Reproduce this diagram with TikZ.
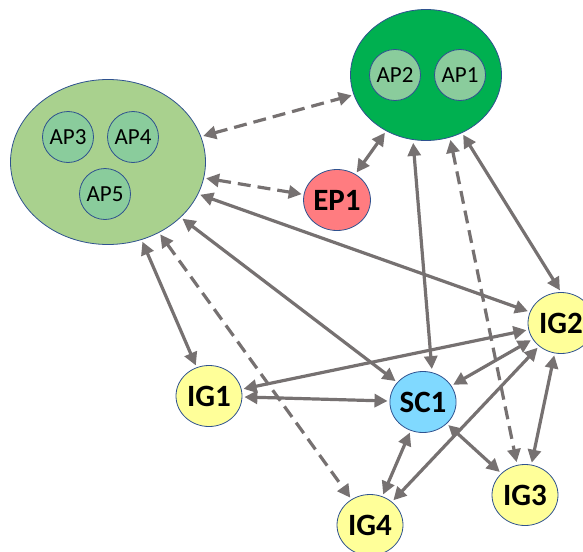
\documentclass[tikz,border=0pt]{standalone}
\usepackage{fontspec}
\setmainfont{Carlito}
\usetikzlibrary{shapes.geometric}
\usetikzlibrary{arrows.meta}

\definecolor{edgegray}{RGB}{118,113,113}
\definecolor{rimblue}{RGB}{47,82,143}
\definecolor{grpgreen}{RGB}{169,209,142}
\definecolor{deepgreen}{RGB}{0,176,80}
\definecolor{apgreen}{RGB}{138,204,156}
\definecolor{epred}{RGB}{255,124,128}
\definecolor{scblue}{RGB}{128,217,255}
\definecolor{igyellow}{RGB}{255,255,153}

\begin{document}
\begin{tikzpicture}[x=1pt,y=-1pt,
		grp/.style={ellipse,draw=rimblue,line width=0.8pt,inner sep=0pt},
		ap/.style={circle,draw=rimblue,fill=apgreen,line width=0.8pt,minimum size=51pt,inner sep=0pt,font=\fontsize{23}{26}\selectfont},
		dev/.style={ellipse,draw=rimblue,line width=0.8pt,minimum width=66pt,minimum height=61pt,inner sep=0pt,font=\bfseries\fontsize{31}{34}\selectfont},
		link/.style={draw=edgegray,line width=3.2pt,shorten <=2pt,shorten >=2pt,{Triangle[length=13pt,width=13pt]}-{Triangle[length=13pt,width=13pt]}},
		dlink/.style={link,dash pattern=on 13pt off 7pt}]
		\useasboundingbox (0,0) rectangle (583,551);
		\clip (0,0) rectangle (583,551);
		% access point groups
		\node[grp,fill=grpgreen,minimum width=195pt,minimum height=165pt] (apL) at (108,162) {};
		\node[grp,fill=deepgreen,minimum width=151pt,minimum height=131pt] (apR) at (426,75) {};
		\node[ap] (ap3) at (68,137) {AP3};
		\node[ap] (ap4) at (133,137) {AP4};
		\node[ap] (ap5) at (105,194) {AP5};
		\node[ap] (ap2) at (395,75) {AP2};
		\node[ap] (ap1) at (460,75) {AP1};
		% devices
		\node[dev,fill=epred] (ep1) at (337,200) {EP1};
		\node[dev,fill=scblue] (sc1) at (423,402) {SC1};
		\node[dev,fill=igyellow] (ig1) at (209,396) {IG1};
		\node[dev,fill=igyellow] (ig2) at (561,323) {IG2};
		\node[dev,fill=igyellow] (ig3) at (525,495) {IG3};
		\node[dev,fill=igyellow] (ig4) at (370,525) {IG4};
		% solid links
		\foreach \a/\b in {ep1/apR,apL/ig2,apL/sc1,apL/ig1,ig1/sc1,ig1/ig2,sc1/ig2,sc1/ig3,sc1/ig4,ig4/ig2,ig2/ig3}
			\draw[link] (\a) -- (\b);
		\draw[link] (apR) -- (ig2.north);
		\draw[link] ([xshift=-13pt]apR.south) -- ([xshift=9pt]sc1.north);
		% dashed links
		\draw[dlink] (apL) -- (apR);
		\draw[dlink] (apL) -- (ep1);
		\draw[dlink] (apL) -- (ig4);
		\draw[dlink] ([xshift=24pt,yshift=3pt]apR.south) -- ([xshift=-8pt]ig3.north);
	\end{tikzpicture}
\end{document}
